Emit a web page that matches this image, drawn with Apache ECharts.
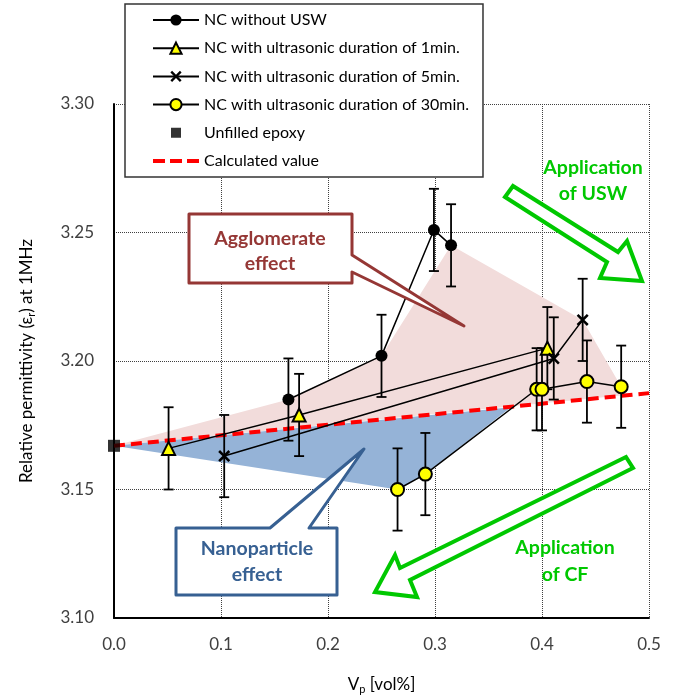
<!DOCTYPE html>
<html><head><meta charset="utf-8">
<script src="https://cdn.jsdelivr.net/npm/echarts@6/dist/echarts.min.js"></script>
<style>html,body{margin:0;padding:0;background:#fff}#c{width:673px;height:698px}</style>
</head><body><div id="c"></div>
<script>
// ---- data ----
const xTicks = [0.0, 0.1, 0.2, 0.3, 0.4, 0.5];
const yTicks = [3.10, 3.15, 3.20, 3.25, 3.30];
const epoxyX = [0.0];
const epoxyY = [3.167];
const noUswX = [0.163, 0.250, 0.299, 0.315];
const noUswY = [3.185, 3.202, 3.251, 3.245];
const noUswErr = [0.016, 0.016, 0.016, 0.016];
const us1X = [0.051, 0.173, 0.405];
const us1Y = [3.166, 3.179, 3.205];
const us1Err = [0.016, 0.016, 0.016];
const us5X = [0.103, 0.411, 0.438];
const us5Y = [3.163, 3.201, 3.216];
const us5Err = [0.016, 0.016, 0.016];
const us30X = [0.265, 0.291, 0.395, 0.400, 0.442, 0.474];
const us30Y = [3.150, 3.156, 3.189, 3.189, 3.192, 3.190];
const us30Err = [0.016, 0.016, 0.016, 0.016, 0.016, 0.016];
const calcX = [0.0, 0.5];
const calcY = [3.167, 3.1875];
const aggloX = [0.0, 0.163, 0.250, 0.315, 0.438, 0.474, 0.474];
const aggloY = [3.167, 3.185, 3.202, 3.245, 3.216, 3.190, 3.1866];
const nanoX = [0.0, 0.371, 0.291, 0.265];
const nanoY = [3.167, 3.182, 3.156, 3.150];

const names = ['NC without USW','NC with ultrasonic duration of 1min.','NC with ultrasonic duration of 5min.','NC with ultrasonic duration of 30min.','Unfilled epoxy','Calculated value'];
const FONT = 'Lato';
const zip = (a,b) => a.map((v,i)=>[v,b[i]]);
const zip3 = (a,b,c) => a.map((v,i)=>[v,b[i],c[i]]);
const crossPath = 'path://M0,1.5 L1.5,0 L5,3.5 L8.5,0 L10,1.5 L6.5,5 L10,8.5 L8.5,10 L5,6.5 L1.5,10 L0,8.5 L3.5,5 Z';
const dashIcon = 'path://M0,0 L12,0 L12,4 L0,4 Z M17,0 L29,0 L29,4 L17,4 Z M34,0 L46,0 L46,4 L34,4 Z';
const squareIcon = 'path://M-2,-2 L-1.99,-2 Z M0,0 L10,0 L10,10 L0,10 Z M12,12 L11.99,12 Z';

function polySeries(xs, ys, color){
  return {type:'custom', z:1, silent:true, data:[[xs[0], ys[0]]],
    renderItem:(params, api)=>({type:'polygon', shape:{points: xs.map((x,i)=>api.coord([x, ys[i]]))}, style:{fill:color}})};
}
function errSeries(xs, ys, es){
  return {type:'custom', z:3, silent:true, data: zip3(xs, ys, es),
    renderItem:(params, api)=>{
      const x=api.value(0), y=api.value(1), e=api.value(2);
      const t=api.coord([x,y+e]), b=api.coord([x,y-e]);
      const st={stroke:'#000', lineWidth:1.8};
      return {type:'group', children:[
        {type:'line', shape:{x1:t[0],y1:t[1],x2:b[0],y2:b[1]}, style:st},
        {type:'line', shape:{x1:t[0]-5,y1:t[1],x2:t[0]+5,y2:t[1]}, style:st},
        {type:'line', shape:{x1:b[0]-5,y1:b[1],x2:b[0]+5,y2:b[1]}, style:st}
      ]};
    }};
}
function lineSeries(name, xs, ys, symbol, size, fill){
  return {name, type:'line', z:4, data: zip(xs, ys), symbol, symbolSize:size, showSymbol:true,
    lineStyle:{color:'#000', width:1.5}, itemStyle:{color:fill, borderColor:'#000', borderWidth: fill==='#000'?0:2}, emphasis:{disabled:true}};
}

const chart = echarts.init(document.getElementById('c'), null, {renderer:'canvas'});
const green = '#00c800';
const legendData = names.map((n,i)=> i===4 ? {name:n, icon:squareIcon} : (i===5 ? {name:n, icon:dashIcon} : {name:n}));
const option = {
  animation:false,
  grid:{left:114, right:24, top:104, bottom:80, containLabel:false, outerBoundsMode:'none'},
  legend:{data:legendData, orient:'vertical', left:125, top:4,
    padding:[8,14,8,27], itemWidth:46, itemHeight:14, itemGap:12.2,
    backgroundColor:'#fff', borderColor:'#333', borderWidth:1.5,
    textStyle:{fontFamily:FONT, fontSize:16, color:'#000'}, selectedMode:false},
  xAxis:{type:'value', min:0, max:0.5, interval:0.1,
    axisLine:{lineStyle:{color:'#000', width:2}}, axisTick:{show:false},
    axisLabel:{margin:18, fontFamily:FONT, fontSize:17, color:'#404040', formatter:v=>v.toFixed(1)},
    splitLine:{lineStyle:{type:'dotted', color:'#404040', width:1}},
    name:'{a|V}{b|p}{a| [vol%]}', nameLocation:'middle', nameGap:57,
    nameTextStyle:{rich:{a:{fontFamily:FONT, fontSize:17, color:'#000', lineHeight:20}, b:{fontFamily:FONT, fontSize:11, color:'#000', lineHeight:11, verticalAlign:'bottom'}}}},
  yAxis:{type:'value', min:3.10, max:3.30, interval:0.05,
    axisLine:{show:true, lineStyle:{color:'#000', width:2}}, axisTick:{show:false},
    axisLabel:{margin:20, fontFamily:FONT, fontSize:17, color:'#404040', formatter:v=>v.toFixed(2)},
    splitLine:{lineStyle:{type:'dotted', color:'#404040', width:1}},
    name:'{a|Relative permittivity (ε}{b|r}{a|) at 1MHz}', nameLocation:'middle', nameGap:77, nameRotate:90,
    nameTextStyle:{rich:{a:{fontFamily:FONT, fontSize:17, color:'#000', lineHeight:20}, b:{fontFamily:FONT, fontSize:11, color:'#000', lineHeight:11, verticalAlign:'bottom'}}}},
  series:[
    polySeries(aggloX, aggloY, '#f2dcdb'),
    polySeries(nanoX, nanoY, '#95b3d7'),
    {name:names[5], type:'line', z:2, data:zip(calcX, calcY), symbol:'none', lineStyle:{color:'#ff0000', width:4, type:[11,6]}, itemStyle:{color:'#ff0000'}},
    errSeries(noUswX, noUswY, noUswErr),
    errSeries(us1X, us1Y, us1Err),
    errSeries(us5X, us5Y, us5Err),
    errSeries(us30X, us30Y, us30Err),
    lineSeries(names[0], noUswX, noUswY, 'circle', 12, '#000'),
    lineSeries(names[1], us1X, us1Y, 'triangle', 13, '#ffff00'),
    lineSeries(names[2], us5X, us5Y, crossPath, 12, '#000'),
    lineSeries(names[3], us30X, us30Y, 'circle', 13, '#ffff00'),
    {name:names[4], type:'scatter', z:5, data:zip(epoxyX, epoxyY), symbol:'rect', symbolSize:12, itemStyle:{color:'#000'}}
  ],
  graphic:[
    {type:'polygon', z:100, shape:{points:[[189,214],[352,214],[352,255],[464,326],[352,272],[352,283],[189,283]]},
      style:{fill:'#fff', stroke:'#953735', lineWidth:3, lineJoin:'round'}},
    {type:'text', z:101, x:270, y:251, style:{text:'Agglomerate\neffect', fill:'#953735', font:'bold 19.5px Lato', align:'center', verticalAlign:'middle', lineHeight:25}},
    {type:'polygon', z:100, shape:{points:[[176,528],[270,528],[364,449],[309,528],[337,528],[337,595],[176,595]]},
      style:{fill:'#fff', stroke:'#376092', lineWidth:3, lineJoin:'round'}},
    {type:'text', z:101, x:257, y:562, style:{text:'Nanoparticle\neffect', fill:'#376092', font:'bold 19.5px Lato', align:'center', verticalAlign:'middle', lineHeight:26}},
    {type:'polygon', z:100, shape:{points:[[505,197],[607,262],[600,278],[642,281],[627,241],[618,252],[513,186]]},
      style:{fill:'#fff', stroke:green, lineWidth:4}},
    {type:'text', z:101, x:593, y:181, style:{text:'Application\nof USW', fill:green, font:'bold 19.5px Lato', align:'center', verticalAlign:'middle', lineHeight:26}},
    {type:'polygon', z:100, shape:{points:[[626,457],[400,568],[395,555],[375,592],[417,597],[410,580],[633,468]]},
      style:{fill:'#fff', stroke:green, lineWidth:4}},
    {type:'text', z:101, x:565, y:561, style:{text:'Application\nof CF', fill:green, font:'bold 19.5px Lato', align:'center', verticalAlign:'middle', lineHeight:27}}
  ]
};
chart.setOption(option);
</script></body></html>
